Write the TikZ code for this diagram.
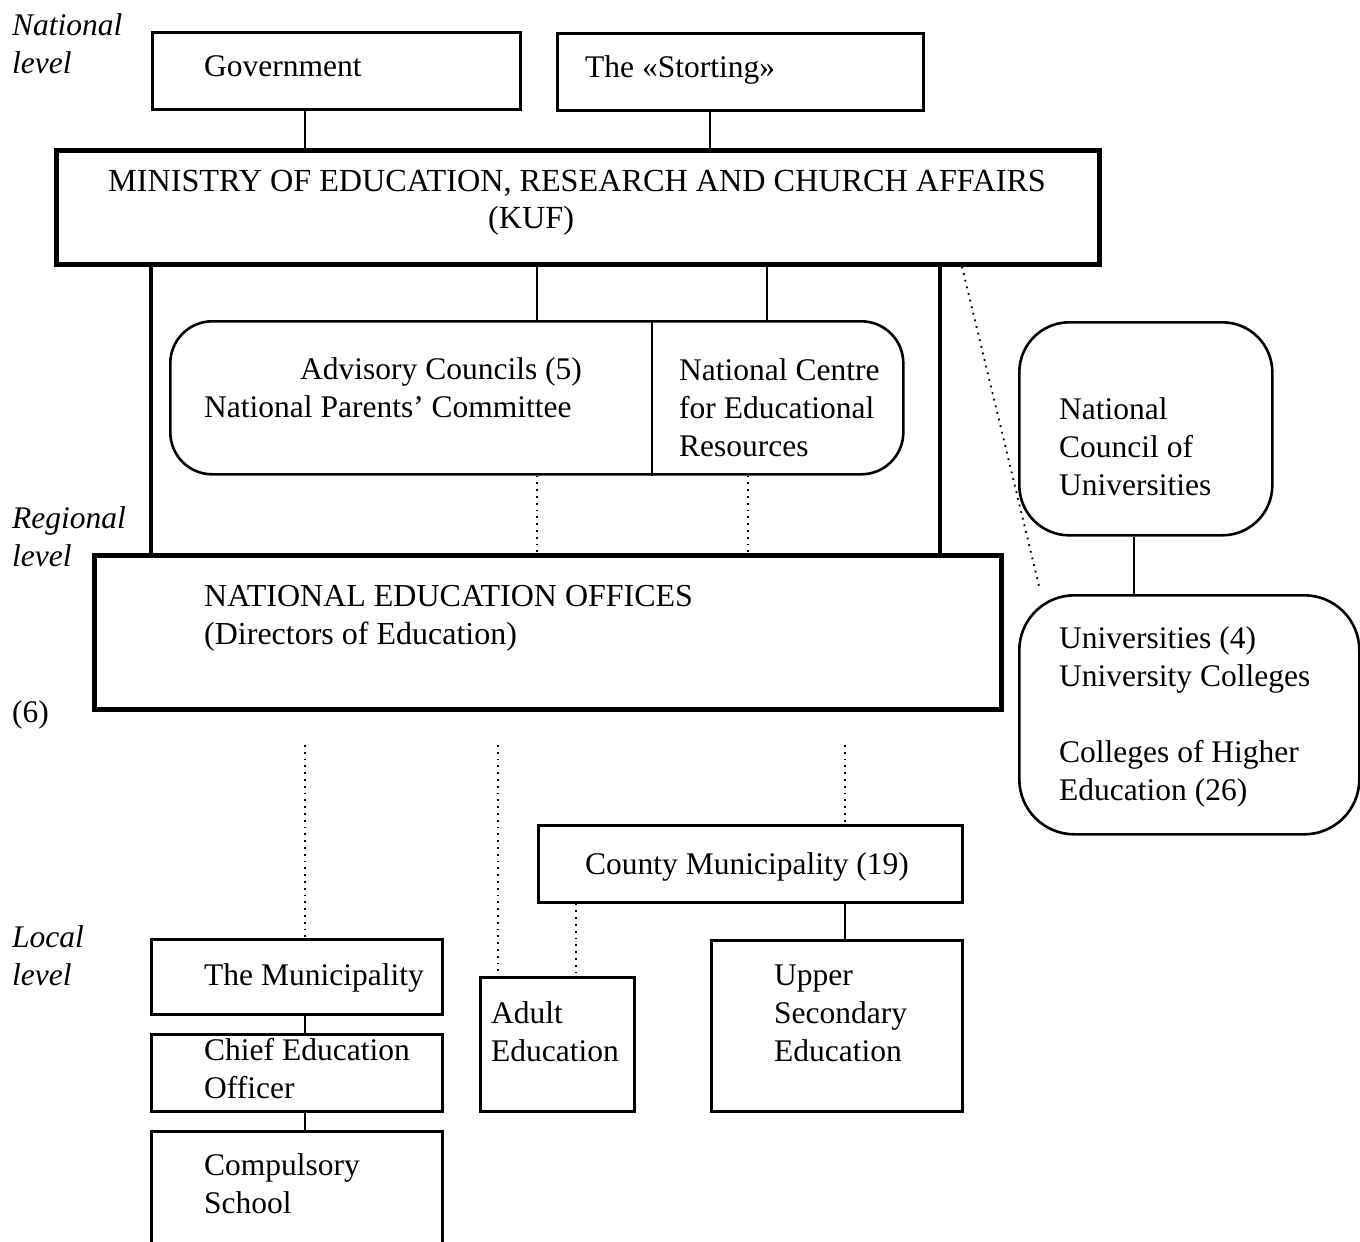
\documentclass[tikz,border=0pt]{standalone}
\usepackage{fontspec}
\setmainfont{Liberation Serif}
\newcommand\ml[1]{\begin{tabular}[t]{@{}l@{}}#1\end{tabular}}
\begin{document}
\begin{tikzpicture}[x=1pt,y=-1pt,
  every node/.style={font=\fontsize{31.5}{38}\selectfont},
  bx/.style={draw,line width=2.6pt,anchor=north west,inner sep=0pt},
  thickbx/.style={draw,line width=4.6pt,anchor=north west,inner sep=0pt},
  rbx/.style={bx,rounded corners=#1},
  txt/.style={anchor=base west,inner sep=0pt},
  lvl/.style={txt,font=\fontsize{31.5}{38}\selectfont\itshape},
  con/.style={line width=2.4pt},
  thickcon/.style={line width=4.6pt},
  dotcon/.style={line width=1.8pt,dash pattern=on 1.8pt off 5pt}]
\useasboundingbox (0,0) rectangle (1360,1242);
\clip (0,0) rectangle (1360,1242);
% boxes
\node[bx,minimum width=368pt,minimum height=77pt] (gov) at (151,31) {};
\node[bx,minimum width=366pt,minimum height=77pt] (sto) at (556,32) {};
\node[thickbx,minimum width=1043pt,minimum height=114pt] (min) at (54,148) {};
\node[rbx=42pt,minimum width=733pt,minimum height=153pt] (adv) at (169,320) {};
\node[rbx=50pt,minimum width=253pt,minimum height=213pt] (ncu) at (1018,321) {};
\node[rbx=55pt,minimum width=340pt,minimum height=239pt] (uni) at (1018,594) {};
\node[thickbx,minimum width=907pt,minimum height=154pt] (neo) at (92,553) {};
\node[bx,minimum width=424pt,minimum height=77pt] (cty) at (537,824) {};
\node[bx,minimum width=291pt,minimum height=75pt] (mun) at (150,938) {};
\node[bx,minimum width=291pt,minimum height=77pt] (ceo) at (150,1033) {};
\node[bx,minimum width=291pt,minimum height=150pt] (cmp) at (150,1130) {};
\node[bx,minimum width=154pt,minimum height=134pt] (adu) at (479,976) {};
\node[bx,minimum width=251pt,minimum height=171pt] (usc) at (710,939) {};
% texts
\node[lvl] (tnat) at (12,35) {\ml{National\\level}};
\node[lvl] (treg) at (12,528) {\ml{Regional\\level}};
\node[lvl] (tloc) at (12,947) {\ml{Local\\level}};
\node[txt] (tsix) at (12,722) {(6)};
\node[txt] (tgov) at (204,76) {Government};
\node[txt] (tsto) at (585,77) {The «Storting»};
\node[txt,font=\fontsize{32.2}{38}\selectfont] (tmin) at (108,191) {MINISTRY OF EDUCATION, RESEARCH AND CHURCH AFFAIRS};
\node[txt,font=\fontsize{32.2}{38}\selectfont] (tkuf) at (488,228) {(KUF)};
\node[txt] (tadv1) at (300,379) {Advisory Councils (5)};
\node[txt] (tadv2) at (204,417) {National Parents' Committee};
\node[txt] (tncer) at (679,380) {\ml{National Centre\\for Educational\\Resources}};
\node[txt] (tncu) at (1059,419) {\ml{National\\Council of\\Universities}};
\node[txt] (tuni) at (1059,648) {\ml{Universities (4)\\University Colleges\\ \\Colleges of Higher\\Education (26)}};
\node[txt,font=\fontsize{32}{38}\selectfont] (tneo) at (204,606) {\ml{NATIONAL EDUCATION OFFICES\\(Directors of Education)}};
\node[txt] (tcty) at (585,874) {County Municipality (19)};
\node[txt] (tmun) at (204,985) {The Municipality};
\node[txt] (tceo) at (204,1060) {\ml{Chief Education\\Officer}};
\node[txt] (tcmp) at (204,1175) {\ml{Compulsory\\School}};
\node[txt] (tadu) at (491,1023) {\ml{Adult\\Education}};
\node[txt] (tusc) at (774,985) {\ml{Upper\\Secondary\\Education}};
% free ends
\coordinate (dend) at (1040,590);
\coordinate (d1) at (305,745);
\coordinate (d2) at (498,745);
\coordinate (d3) at (845,745);
% connectors
\draw[con] (305,0 |- gov.south) -- (305,0 |- min.north);
\draw[con] (710,0 |- sto.south) -- (710,0 |- min.north);
\draw[thickcon] (151,0 |- min.south) -- (151,0 |- neo.north);
\draw[thickcon] (940,0 |- min.south) -- (940,0 |- neo.north);
\draw[con] (537,0 |- min.south) -- (537,0 |- adv.north);
\draw[con] (767,0 |- min.south) -- (767,0 |- adv.north);
\draw[con] (652,0 |- adv.north) -- (652,0 |- adv.south);
\draw[dotcon] (537,0 |- adv.south) -- (537,0 |- neo.north);
\draw[dotcon] (748,0 |- adv.south) -- (748,0 |- neo.north);
\draw[dotcon] (962,0 |- min.south) -- (dend);
\draw[con] (1134,0 |- ncu.south) -- (1134,0 |- uni.north);
\draw[dotcon] (d1) -- (305,0 |- mun.north);
\draw[dotcon] (d2) -- (498,0 |- adu.north);
\draw[dotcon] (d3) -- (845,0 |- cty.north);
\draw[dotcon] (576,0 |- cty.south) -- (576,0 |- adu.north);
\draw[con] (845,0 |- cty.south) -- (845,0 |- usc.north);
\draw[con] (305,0 |- mun.south) -- (305,0 |- ceo.north);
\draw[con] (305,0 |- ceo.south) -- (305,0 |- cmp.north);
\end{tikzpicture}
\end{document}
